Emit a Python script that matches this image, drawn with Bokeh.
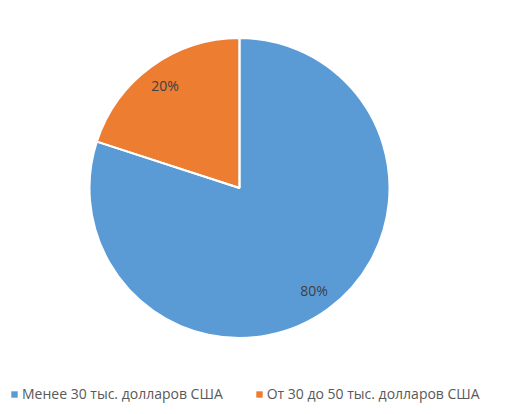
import numpy as np
from bokeh.plotting import figure
from bokeh.models import ColumnDataSource, Legend, LegendItem, Range1d
from bokeh.core.properties import value
from bokeh.embed import file_html
from bokeh.resources import INLINE

categories = ["Менее 30 тыс. долларов США", "От 30 до 50 тыс. долларов США"]
values = [80, 20]
labels = ["80%", "20%"]
colors = ["#5B9BD5", "#ED7D31"]

W, H = 497, 406
cx, cy, R = 239, 218.5, 150

vals = np.array(values, dtype=float)
frac = vals / vals.sum()
# start at 12 o'clock, go clockwise
ends = np.pi / 2 - np.concatenate([[0], np.cumsum(frac)[:-1]]) * 2 * np.pi
starts = ends - frac * 2 * np.pi
mids = (starts + ends) / 2

src = ColumnDataSource(dict(
    x=[cx] * len(vals), y=[cy] * len(vals),
    start=starts, end=ends, color=colors, cat=categories,
    lx=cx + 0.845 * R * np.cos(mids), ly=cy + 0.845 * R * np.sin(mids),
    lab=labels,
))

p = figure(width=W, height=H, output_backend="svg", toolbar_location=None,
           x_range=Range1d(0, W), y_range=Range1d(0, H), min_border=0)
p.axis.visible = False
p.grid.visible = False
p.outline_line_color = None
p.background_fill_color = "white"

r = p.wedge(x="x", y="y", radius=R, start_angle="start", end_angle="end",
            fill_color="color", line_color=None, source=src)
# white separators between slices
p.wedge(x="x", y="y", radius=R, start_angle="start", end_angle="end",
        fill_color=None, line_color="white", line_width=2, source=src)
p.text(x="lx", y="ly", text="lab", source=src, text_align="center",
       text_baseline="middle", text_font=value("Open Sans"),
       text_font_size="14px", text_color="#404040")

items = [LegendItem(label=categories[i], renderers=[r], index=i) for i in range(len(categories))]
legend = Legend(items=items, orientation="horizontal", location=(10, 3),
                glyph_width=8, glyph_height=8, label_standoff=4, spacing=32,
                padding=0, margin=0, border_line_color=None,
                background_fill_alpha=0, label_text_font="Open Sans",
                label_text_font_size="14px", label_text_color="#595959")
p.add_layout(legend, "center")

open("out.html", "w").write(file_html(p, INLINE))
